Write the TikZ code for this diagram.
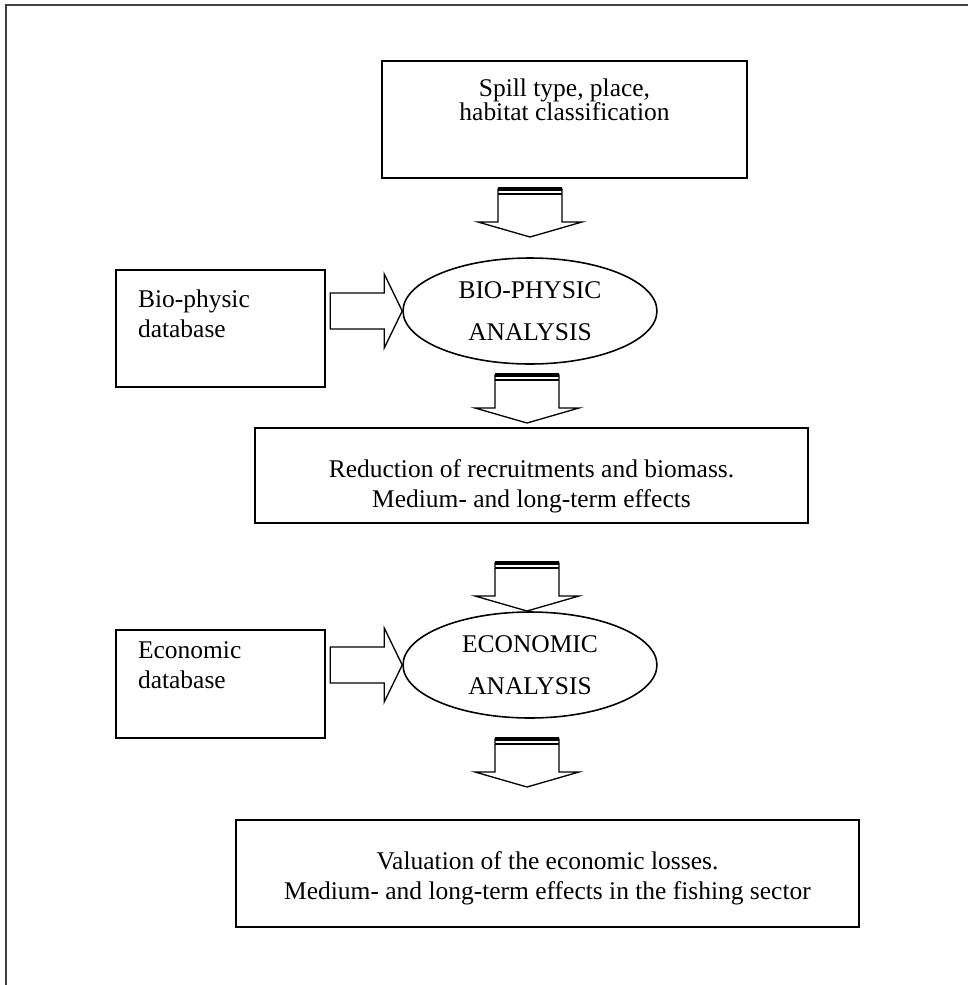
\documentclass[tikz,border=0pt]{standalone}
\usepackage{fontspec}
\setmainfont{Liberation Serif}
\usetikzlibrary{shapes.geometric}

\tikzset{
    box/.style = {draw, line width=0.9pt, inner sep=0pt, align=center,
                  font=\fontsize{14.5pt}{17pt}\selectfont},
    dbbox/.style = {box, minimum width=4.18cm, inner xsep=0.44cm,
                    text width=3.3cm, align=left},
    oval/.style = {draw, ellipse, line width=0.9pt, inner sep=0pt, align=center,
                   minimum width=5.08cm, minimum height=2.12cm,
                   font=\fontsize{14.5pt}{17pt}\selectfont},
    blk/.style = {draw, line width=0.75pt, fill=white, line join=miter},
    frame/.style = {draw=black!75, line width=1.2pt},
    pics/blkdown/.style = {code = {
        \draw[blk] (0,0) -- (-52,-15) -- (-32,-15) -- (-32,-48) -- (32,-48)
                   -- (32,-15) -- (52,-15) -- cycle;
        \draw[line width=2.3pt] (-32,-48) -- (32,-48);
        \draw[line width=1.6pt] (-32,-43) -- (32,-43);
    }},
    pics/blkright/.style = {code = {
        \draw[blk] (0,0) -- (-18,37) -- (-18,18) -- (-72,18) -- (-72,-18)
                   -- (-18,-18) -- (-18,-37) -- cycle;
    }},
}

\begin{document}
\begin{tikzpicture}[x=0.02cm, y=-0.02cm]
    \useasboundingbox (0,0) rectangle (968,985);
    \draw[frame] (6,985) -- (6,5) -- (968,5);

    % boxes and ovals
    \node[box, minimum width=7.3cm, minimum height=2.34cm, text depth=0.8cm,
          font=\fontsize{14.5pt}{13.5pt}\selectfont] (spill) at (564.5,119.5)
        {Spill type, place,\\habitat classification};
    \node[oval] (bioan) at (530,311) {BIO-PHYSIC\\[7pt]ANALYSIS};
    \node[dbbox, minimum height=2.34cm, text depth=1.18cm] (biodb) at (220.5,328.5)
        {Bio-physic\\database};
    \node[box, minimum width=11.06cm, minimum height=1.9cm, text height=1.4cm]
        (reduc) at (531.5,475.5)
        {Reduction of recruitments and biomass.\\Medium- and long-term effects};
    \node[oval] (ecoan) at (530,665) {ECONOMIC\\[7pt]ANALYSIS};
    \node[dbbox, minimum height=2.16cm, text depth=1.34cm] (ecodb) at (220.5,684)
        {Economic\\database};
    \node[box, minimum width=12.46cm, minimum height=2.14cm, text height=1.15cm]
        (valu) at (547.5,873.5)
        {Valuation of the economic losses.\\Medium- and long-term effects in the fishing sector};

    % block arrows
    \coordinate (a1) at (530,237);
    \coordinate (a2) at (527,423);
    \coordinate (a3) at (527,611);
    \coordinate (a4) at (527,787);
    \coordinate (r1) at (bioan.west);
    \coordinate (r2) at (ecoan.west);
    \pic at (a1) {blkdown};
    \pic at (a2) {blkdown};
    \pic at (a3) {blkdown};
    \pic at (a4) {blkdown};
    \pic at (r1) {blkright};
    \pic at (r2) {blkright};
\end{tikzpicture}
\end{document}
